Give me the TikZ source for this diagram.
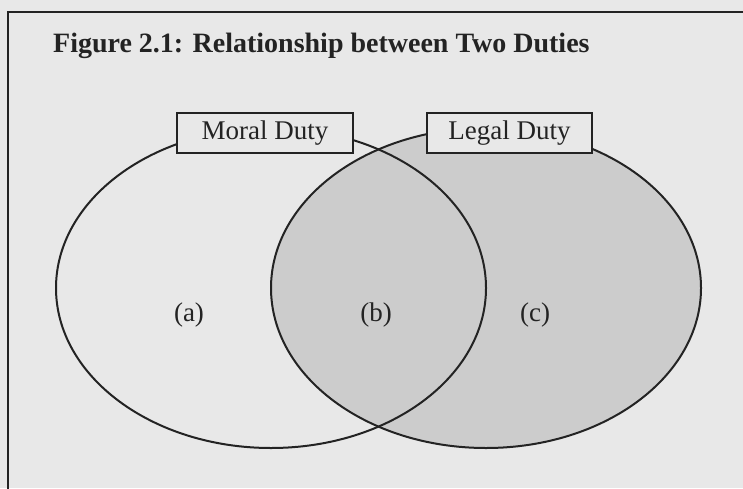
\documentclass[tikz,border=0pt]{standalone}
\usepackage{fontspec}
\setmainfont{Liberation Serif}
\usetikzlibrary{shapes.geometric}
\definecolor{bg}{RGB}{232,232,232}
\definecolor{fillg}{RGB}{204,204,204}
\definecolor{ink}{RGB}{35,35,35}
\tikzset{
  setellipse/.style={ellipse, draw=ink, line width=2pt, inner sep=0pt, minimum width=430pt, minimum height=320pt},
  dutybox/.style={draw=ink, line width=2pt, fill=bg, inner sep=0pt, minimum height=40pt, font=\fontsize{27}{30}\selectfont, text=ink},
  region/.style={font=\fontsize{27}{30}\selectfont, text=ink, inner sep=0pt}
}
\begin{document}
\begin{tikzpicture}[x=1pt,y=-1pt]
\clip (0,0) rectangle (743,488);
\fill[bg] (0,0) rectangle (743,488);
\draw[ink, line width=2pt] (8,12) rectangle (760,500);
\node[anchor=base west, inner sep=0pt, text=ink, font=\bfseries\fontsize{28}{30}\selectfont] (title) at (53,52) {Figure 2.1: Relationship between Two Duties};
\node[setellipse, fill=fillg] (legal) at (486,288) {};
\node[setellipse] (moral) at (271,288) {};
\node[region] (a) at (189,315) {(a)};
\node[region] (b) at (376,315) {(b)};
\node[region] (c) at (535,315) {(c)};
\node[dutybox, minimum width=176pt] (mbox) at (265,133) {Moral Duty};
\node[dutybox, minimum width=165pt] (lbox) at (509.5,133) {Legal Duty};
\end{tikzpicture}
\end{document}
